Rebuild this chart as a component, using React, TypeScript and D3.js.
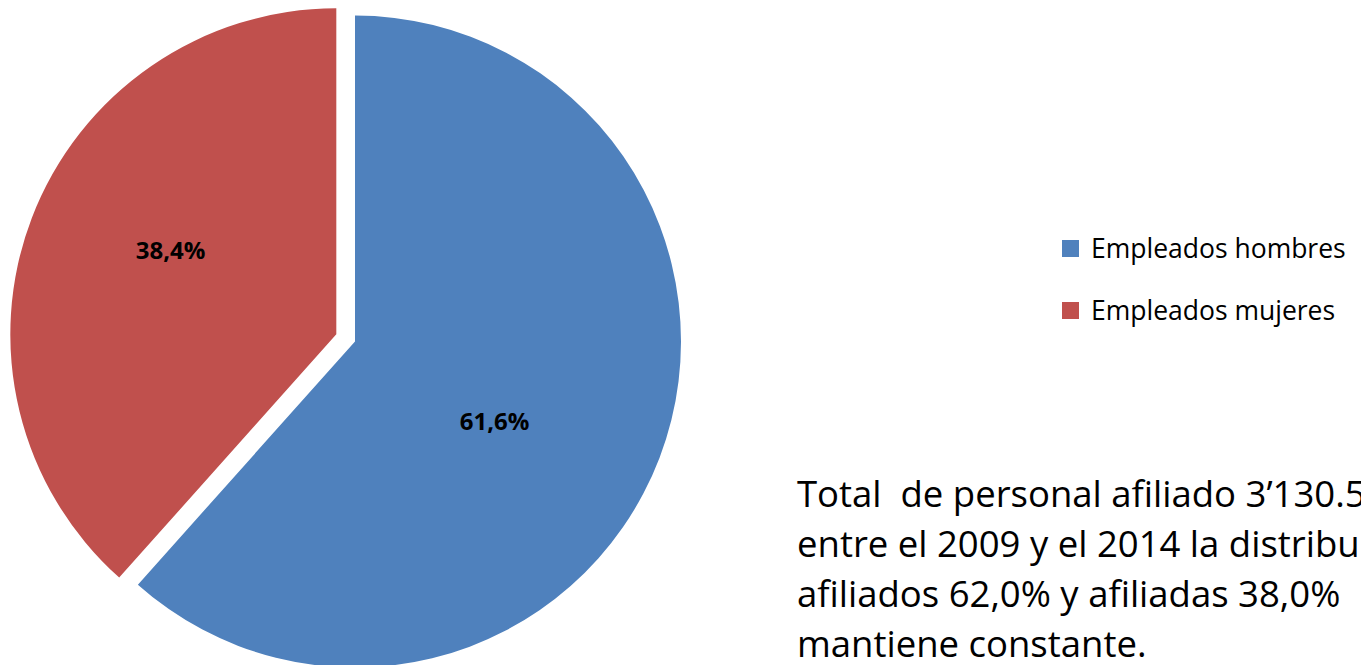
import React from "react";
import * as d3 from "d3";

const categories = ["Empleados hombres", "Empleados mujeres"];
const values = [61.6, 38.4];
const valueLabels = ["61,6%", "38,4%"];
const colors = ["#4F81BD", "#C0504D"];
const exploded = [false, true];
const noteLines = [
  "Total  de personal afiliado 3’130.5",
  "entre el 2009 y el 2014 la distribu",
  "afiliados 62,0% y afiliadas 38,0%",
  "mantiene constante.",
];

const W = 1361;
const H = 665;
const cx = 355;
const cy = 341.5;
const R = 326;
const explode = 20;
// label placement per slice: angle shift (deg) and radius fraction
const labelLayout = [
  { shift: 9, frac: 0.494 },
  { shift: 5.8, frac: 0.569 },
];

export default function App() {
  const pie = d3.pie<number>().sort(null).value((d) => d);
  const arcs = pie(values);
  const arc = d3.arc<d3.PieArcDatum<number>>().innerRadius(0).outerRadius(R);

  return (
    <svg
      width={W}
      height={H}
      style={{ position: "absolute", left: 0, top: 0, background: "#fff" }}
      fontFamily="'Open Sans', sans-serif"
    >
      <g transform={`translate(${cx},${cy})`}>
        {arcs.map((a, i) => {
          const mid = (a.startAngle + a.endAngle) / 2;
          const dx = exploded[i] ? Math.sin(mid) * explode : 0;
          const dy = exploded[i] ? -Math.cos(mid) * explode : 0;
          const la = mid + (labelLayout[i].shift * Math.PI) / 180;
          const lr = labelLayout[i].frac * R;
          const lx = Math.sin(la) * lr;
          const ly = -Math.cos(la) * lr;
          return (
            <g key={i} transform={`translate(${dx},${dy})`}>
              <path d={arc(a) || ""} fill={colors[i]} />
              <text
                x={lx}
                y={ly + 8}
                textAnchor="middle"
                fontWeight="bold"
                fontSize={24}
                fill="#000"
              >
                {valueLabels[i]}
              </text>
            </g>
          );
        })}
      </g>
      <g>
        {categories.map((c, i) => (
          <g key={c} transform={`translate(1062,${240 + i * 62})`}>
            <rect x={0} y={0} width={17} height={17} fill={colors[i]} />
            <text x={29} y={18} fontSize={26.5} fill="#000">
              {c}
            </text>
          </g>
        ))}
      </g>
      <g>
        {noteLines.map((t, i) => (
          <text
            key={i}
            x={797}
            y={507 + i * 50}
            fontSize={36.5}
            fill="#000"
            style={{ whiteSpace: "pre" }}
          >
            {t}
          </text>
        ))}
      </g>
    </svg>
  );
}
